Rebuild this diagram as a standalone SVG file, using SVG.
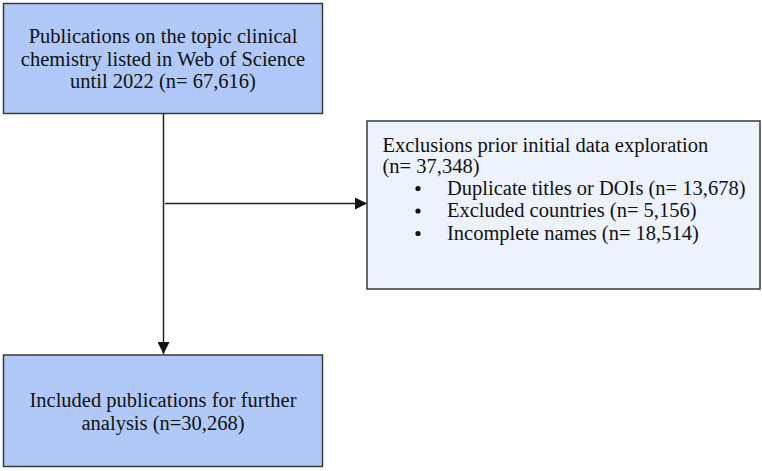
<svg xmlns="http://www.w3.org/2000/svg" width="762" height="471" viewBox="0 0 762 471">
<style>
.box{stroke:#3a3a3a;stroke-width:1.5}
.blue{fill:#b0c9f9}
.pale{fill:#edf3fc}
.t{font-family:'Liberation Serif','Times New Roman',serif;font-size:20.5px;fill:#111}
.c{text-anchor:middle}
.edge{stroke:#222;stroke-width:1.5;fill:none}
</style>
<defs>
<marker id="ah2" viewBox="0 0 10 10" refX="10" refY="5" markerWidth="12" markerHeight="12" markerUnits="userSpaceOnUse" orient="auto">
<path d="M0,0 L10,5 L0,10 z" fill="#111"/>
</marker>
</defs>
<g id="connectors">
<line class="edge" x1="163.5" y1="114" x2="163.5" y2="354" marker-end="url(#ah2)"/>
<line class="edge" x1="165" y1="203.5" x2="367" y2="203.5" marker-end="url(#ah2)"/>
</g>
<g id="node-publications">
<rect class="box blue" x="3.5" y="3.5" width="319" height="110"/>
<text class="t c" font-family="Liberation Serif, serif" x="163" y="43">Publications on the topic clinical</text>
<text class="t c" font-family="Liberation Serif, serif" x="163" y="65.5">chemistry listed in Web of Science</text>
<text class="t c" font-family="Liberation Serif, serif" x="163" y="88">until 2022 (n= 67,616)</text>
</g>
<g id="node-exclusions">
<rect class="box pale" x="367" y="121" width="393" height="168"/>
<text class="t" font-family="Liberation Serif, serif" x="382.5" y="151.5">Exclusions prior initial data exploration</text>
<text class="t" font-family="Liberation Serif, serif" x="382.5" y="173">(n= 37,348)</text>
<circle cx="418" cy="188.5" r="2.6" fill="#111"/>
<text class="t" font-family="Liberation Serif, serif" x="447" y="194.5">Duplicate titles or DOIs (n= 13,678)</text>
<circle cx="418" cy="211" r="2.6" fill="#111"/>
<text class="t" font-family="Liberation Serif, serif" x="447" y="217">Excluded countries (n= 5,156)</text>
<circle cx="418" cy="233.5" r="2.6" fill="#111"/>
<text class="t" font-family="Liberation Serif, serif" x="447" y="239.5">Incomplete names (n= 18,514)</text>
</g>
<g id="node-included">
<rect class="box blue" x="3.5" y="355" width="319" height="111.5"/>
<text class="t c" font-family="Liberation Serif, serif" x="163" y="407">Included publications for further</text>
<text class="t c" font-family="Liberation Serif, serif" x="163" y="430">analysis (n=30,268)</text>
</g>
</svg>
